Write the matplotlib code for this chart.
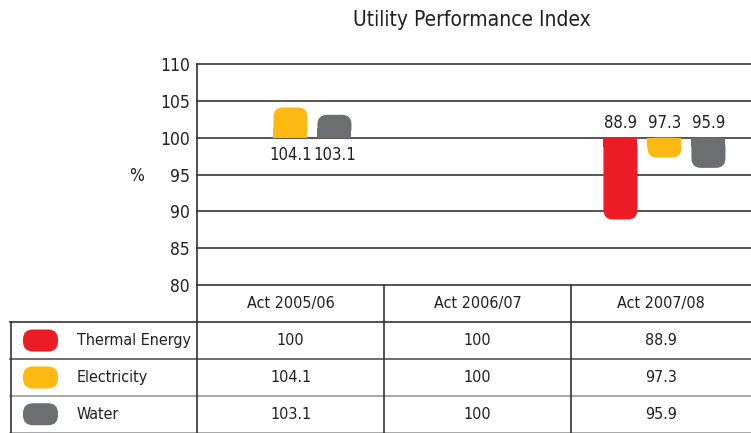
import matplotlib
matplotlib.use("Agg")
import matplotlib.pyplot as plt
from matplotlib.patches import FancyBboxPatch, Rectangle

plt.rcParams['font.family'] = ['DejaVu Sans']
plt.rcParams['font.stretch'] = 'condensed'

# data
categories = ["Act 2005/06", "Act 2006/07", "Act 2007/08"]
series = ["Thermal Energy", "Electricity", "Water"]
thermal = [100, 100, 88.9]
electricity = [104.1, 100, 97.3]
water = [103.1, 100, 95.9]
colors = ["#ED1C24", "#FDB913", "#6D6E70"]
yticks = [80, 85, 90, 95, 100, 105, 110]
base = 100

W, H = 751, 433
txt = "#231F20"
fig = plt.figure(figsize=(W / 100, H / 100), dpi=100)
ax = fig.add_axes([197 / W, 1 - 285 / H, (W - 197) / W, (285 - 64) / H])
ax.set_xlim(-0.5, 2.463)
ax.set_ylim(80, 110)
for s in ["top", "right", "bottom"]:
    ax.spines[s].set_visible(False)
ax.spines["left"].set_color("#333333")
ax.spines["left"].set_linewidth(1.2)
ax.set_yticks(yticks)
ax.set_xticks([])
ax.tick_params(axis="y", length=0, pad=5, labelsize=12.5, labelcolor=txt)
for t in yticks:
    ax.axhline(t, color="#3a3a3a", lw=1.2, zorder=1, clip_on=False)

# rounded bars (round only at the far end)
px_x = (W - 197) / (2.463 + 0.5)
px_y = (285 - 64) / 30
asp = px_x / px_y
w = 34 / px_x
r = 9.5 / px_x
ry = r * asp
offsets = [-44 / px_x, 0, 44 / px_x]
for vals, off, c in zip([thermal, electricity, water], offsets, colors):
    for i, v in enumerate(vals):
        if v == base:
            continue
        x0 = i + off - w / 2
        h = abs(v - base)
        y0 = min(v, base)
        ax.add_patch(FancyBboxPatch((x0, y0), w, h,
                                    boxstyle=f"round,pad=0,rounding_size={r}",
                                    mutation_aspect=asp, fc=c, ec="none", zorder=3))
        sq = min(ry, h)
        ys = base if v > base else base - sq
        ax.add_patch(Rectangle((x0, ys), w, sq, fc=c, ec="none", zorder=3))
        ly = base - 2.4 if v > base else base + 2.0
        ax.text(i + off, ly, f"{v:g}", ha="center", va="center",
                fontsize=12, color=txt, zorder=4)

fig.text(472 / W, 1 - 20 / H, "Utility Performance Index", ha="center", va="center",
         fontsize=15, color=txt)
fig.text(137 / W, 1 - 176 / H, "%", ha="center", va="center", fontsize=12.5, color=txt)

# data table below the chart
tax = fig.add_axes([0, 0, 1, 1])
tax.set_xlim(0, W)
tax.set_ylim(H, 0)
tax.axis("off")
dark, light = "#333333", "#9a9a9a"
cols = [197, 384, 571, W]
rows = [285, 322, 359, 396, 432.5]
tax.plot([10, W], [rows[1]] * 2, color=dark, lw=1.2)
tax.plot([10, W], [rows[2]] * 2, color="#555555", lw=1.2)
tax.plot([10, W], [rows[3]] * 2, color=light, lw=1.2)
tax.plot([10, W], [rows[4]] * 2, color=light, lw=1.2)
for cx in cols[:-1]:
    tax.plot([cx, cx], [285, H], color=dark, lw=1.2)
tax.plot([10.5, 10.5], [rows[1], H], color=dark, lw=1.2)

for j, cat in enumerate(categories):
    tax.text((cols[j] + cols[j + 1]) / 2, (rows[0] + rows[1]) / 2, cat,
             ha="center", va="center", fontsize=11.5, color=txt)
for k, (name, vals, c) in enumerate(zip(series, [thermal, electricity, water], colors)):
    yc = (rows[k + 1] + rows[k + 2]) / 2
    tax.add_patch(FancyBboxPatch((23, yc - 11), 35, 22,
                                 boxstyle="round,pad=0,rounding_size=10",
                                 fc=c, ec="none"))
    tax.text(77, yc, name, ha="left", va="center", fontsize=11.5, color=txt)
    for j, v in enumerate(vals):
        tax.text((cols[j] + cols[j + 1]) / 2, yc, f"{v:g}", ha="center", va="center",
                 fontsize=11.5, color=txt)

fig.savefig("out.png", dpi=100)
